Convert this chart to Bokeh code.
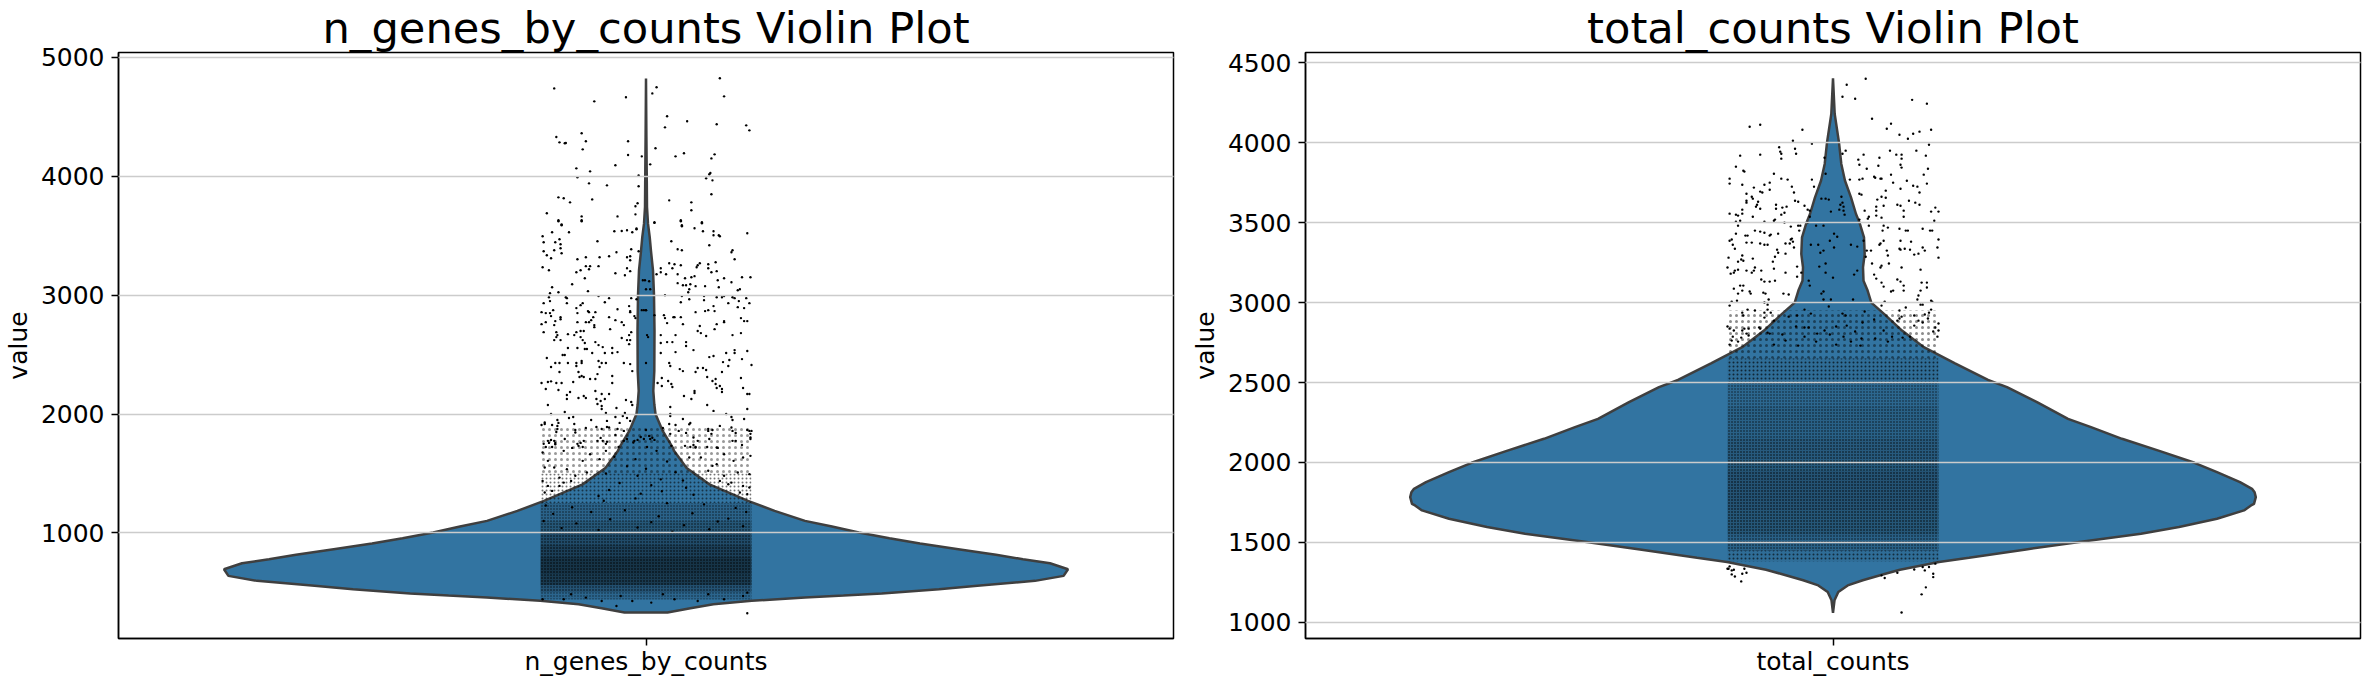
from bokeh.embed import file_html
from bokeh.resources import INLINE
from bokeh.layouts import row
from bokeh.models import Range1d, FixedTicker
from bokeh.plotting import figure

FILL = "#3274a1"
EDGE = "#3f3f3f"

# NOTE ON THE STRIP POINTS
# The sparse points above the dense clouds were read one by one from zoomed crops.
# The dense clouds hold thousands of overlapping points that cannot be read individually.
# They are NOT plotted point by point: the *_band_* arrays draw a shaded, dot-hatched
# texture whose tone was judged by eye. A few dozen points in and near those clouds
# (the last rows of the lists) are rough placements that give an impression, not readings.

genes_label = "n_genes_by_counts"
genes_ticks = [1000, 2000, 3000, 4000, 5000]
genes_curve_value = [329, 366, 400, 428, 456, 472, 489, 526, 554, 596, 638, 694, 744, 778, 815, 862, 910, 955, 1003, 1053, 1101, 1185, 1269, 1339, 1408, 1545, 1691, 1718, 1858, 2000, 2082, 2194, 2360, 2698, 3000, 3209, 3370, 3490, 3602, 3742, 4050, 4330, 4824]
genes_curve_px = [21.5, 44.4, 67.4, 105.7, 159, 197.5, 235.8, 293, 331.4, 389, 417.6, 422, 404, 377, 350, 312.3, 274, 243.4, 212.8, 186, 159, 128.6, 102, 82.7, 63.4, 40.6, 28, 26.7, 16.7, 9.5, 8.3, 7.3, 8.3, 8.5, 8, 7, 5, 3.7, 2, 1, .7, .4, 0]
# jitter in thousandths of the axis width, value on the y axis
genes_jit = [70, 10, -87, 6, -49, -19, 74, 20, 39, 67, 18, 95, 98, -61, -85, -57, -82, -76, -77, -17, -60, 9, 36, 28, -17, -4, 65, 62, -29, 4, -66, -53, 61, 60, -7, -65, 57, 63, -54, -37, -7, 62, -83, -78, -51, -72, 22, 43, -8, -10, -94, 43, -61, -61, -27, -10, -83, -80, 33, 34, 53, 8, -9,
             -83, -80, -61, -30, -23, -18, -13, -9, 8, 33, 34, 46, 53, 54, 64, 64, 69, 70, 96, -98, -89, -73,
             -97, -86, -82, -81, -81, -97, -87, -80, -94, -90, -46, -28, -14, -7, 24, 30, 34, 60, 82, 81, 84, -65, -57, -44, -35, -18, -15, -15,
             -98, -92, -57, -53, -54, -45, -62, -66, -18, -15, -29, -20, -58, 22, 27, 25, 33, 14, 14, 10, 19, 30, 59, 59, 62, 67, 66, 51, 49, 48, 46, 43, 37, 68, 74, 91, 99, 81, -70, -89, 30, 35, 38, 42, 41, 47, 56, 69, 89, 87, -55, -83, -91, 40,
             -45, -35, -39, -92, -91, -97, -76, -75, -75, -14, -9, 18, 34, 33, 41, 55, 55, 67, 72, 74, 82, 84, 95, 78, 98, 64, 59, 65, 87, 93, -99, -95, -91, -88, -62, -60, -66, -65, -55, -54, -27, -48, -16, -15, -2, 0, 56, 47,
             -90, -86, -81, -81, -99, -95, -87, -52, -50, -49, -49, -54, -65, -57, -35, -29, -23, -21, -15, -11, -10, 17, 18, 20, 26, 27, 35, 33, 51, 74, 74, 67, 90, 93, 96, 88,
             -97, -85, -84, -85, -87, -81, -74, -68, -66, -62, -59, -62, -60, -34, -23, -16, -14, -18, -15, 14, 28, 49, 52, 57, 65, 82, 90,
             -58, -48, -41, -45, -74, -65, -58, -56, -51, -32, -32, -39, -27, -16, 14, 20, 25, 38, 38, 28, 45, 14, 76, 84, 84, 96,
             -94, -79, -77, -86, -82, -74, -66, -61, -66, -61, -45, -42, -44, -38, -21, -15, -13, 22, 23, 32, 35, 47, 49, 54, 60, 64, 73, 79, 78, 91, 100, 57, 72,
             -90, -82, -64, -61, -63, -59, -46, -53, -48, -32, -32, -99, -90, -93, -85, -80, -69, -95, -83, -72, -75, -75, -64, -59, -57, -48, -42, -35, -39, -47, -43, -19,
             15, 21, 15, 11, 24, 25, 36, 43, 46, 46, 58, 63, 66, 66, 70, 67, 72, 72, 90, 92, 96, 98, 58,
             -93, -77, -90, -46, -42, -42, -38, -28, -20, -14, -13, 23, 23, 64, 96, 76,
             -99, -96, -84, -83, -89, -73, -69, -68, -67, -84, -85, -57, -52, -47, -42, -37, -29, -25, -22, -18, -15, -21, -27, -37,
             23, 22, 35, 42, 28, 16, 23, 31, 38, 59, 63, 70, 81, 82, 93, 82, 85, 96, 100, 99, 62,
             -90, -92, -97, -87, -86, -95, -89, -77, -70, -65, -62, -60, -59, -43, -41, -38, -37, -29, -21, -26,
             -18, -11, -8, -2, 4, 8, 0, 3, -5, 1, 37, 42, 45, 49, 60, 68, 82, 91, 99, 58, 24, 47,
             -1, 3, -3, 4, 0, -4, 0, 1, 2, 0, 8,
             -96, -84, -67, -93, -86, -64, -46, -98, -78, -53, -93, -87, -96, -75, -60, -44, -98, -82, -71, -93, -82, -78, -96, -89, -67, -56, -38, -35,
             41, 59, 81, 98, 47, 67, 85, 99, 45, 52, 74, 92, 83, 99, 59, 74, 87, 98, 67, 41, 81, 92, 98, 89, 96, 78, 63, 70, 96,
             -98, -78, -57, -28, -42, -13, 5, 27, 49, 74, 92, -71, -24, 16, 59, 96,
             -95, -70, -40, -10, 20, 55, 85, -88, -52, -20, 12, 44, 78, 95, -97, -66, -34, 5, 36, 68, -80, -45, -8, 25, 60, 92,
             -30, -18, -8, 10, 20, 28, -25, 5, 35, -35, -5, 15, 45, -45, -12, 6, -10, 0, 14, -38, 38]
genes_val = [4825, 4749, 4740, 4698, 4631, 4665, 4673, 4505, 4463, 4438, 4412, 4429, 4387, 4362, 4331, 4295, 4286, 4280, 4278, 4295, 4227, 4236, 4194, 4168, 4180, 4168, 4185, 4151, 4093, 4101, 4067, 4042, 4028, 4017, 4008, 3992, 3983, 3966, 3941, 3924, 3916, 3849, 3823, 3815, 3806, 3781, 3798, 3781, 3773, 3748, 3689, 3714, 3663, 3630, 3663, 3680, 3630, 3596, 3630, 3588, 3613, 3613, 3562,
             3622, 3588, 3622, 3538, 3540, 3546, 3529, 3554, 3608, 3622, 3580, 3563, 3605, 3538, 3538, 3504, 3504, 3496, 3521, 3496, 3529, 3529,
             3445, 3445, 3470, 3428, 3395, 3370, 3378, 3353, 3336, 3311, 3454, 3361, 3386, 3370, 3454, 3386, 3378, 3420, 3378, 3361, 3302, 3302, 3319, 3319, 3328, 3319, 3328, 3294,
             3235, 3210, 3244, 3244, 3218, 3244, 3210, 3193, 3227, 3202, 3185, 3168, 3143, 3269, 3260, 3227, 3252, 3227, 3193, 3176, 3176, 3176, 3260, 3227, 3193, 3202, 3277, 3269, 3252, 3235, 3160, 3151, 3143, 3126, 3143, 3151, 3151, 3109, 3092, 3067, 3101, 3084, 3084, 3092, 3050, 3076, 3076, 3067, 3050, 3042, 3034, 3025, 3017, 3025,
             2992, 2975, 2941, 2983, 2950, 2933, 2983, 2975, 2933, 2975, 2966, 3000, 2992, 2941, 2966, 2992, 2958, 2983, 2983, 2992, 2983, 2975, 2975, 2933, 2933, 2908, 2874, 2866, 2899, 2891, 2857, 2849, 2849, 2874, 2916, 2933, 2891, 2849, 2866, 2857, 2882, 2857, 2908, 2857, 2874, 2874, 2866, 2857,
             2824, 2782, 2815, 2798, 2756, 2773, 2748, 2790, 2815, 2748, 2731, 2773, 2773, 2773, 2815, 2790, 2773, 2748, 2866, 2824, 2807, 2832, 2807, 2765, 2815, 2815, 2756, 2815, 2740, 2782, 2773, 2756, 2807, 2782, 2782, 2950,
             2689, 2689, 2664, 2647, 2622, 2622, 2672, 2664, 2689, 2698, 2698, 2647, 2622, 2714, 2639, 2664, 2689, 2622, 2622, 2664, 2664, 2698, 2681, 2656, 2714, 2664, 2681,
             2597, 2605, 2563, 2580, 2555, 2555, 2547, 2547, 2513, 2555, 2513, 2513, 2521, 2588, 2597, 2605, 2605, 2605, 2572, 2521, 2538, 2513, 2513, 2538, 2513, 2530,
             2471, 2496, 2496, 2429, 2429, 2429, 2429, 2446, 2404, 2429, 2446, 2429, 2395, 2429, 2429, 2420, 2361, 2429, 2404, 2378, 2361, 2353, 2387, 2387, 2479, 2488, 2437, 2454, 2404, 2462, 2412, 2370, 2353,
             2395, 2353, 2353, 2320, 2311, 2311, 2336, 2294, 2294, 2320, 2261, 2261, 2275, 2269, 2261, 2261, 2269, 2210, 2202, 2185, 2160, 2126, 2135, 2152, 2135, 2194, 2168, 2168, 2126, 2126, 2110, 2118,
             2303, 2278, 2236, 2261, 2252, 2227, 2152, 2126, 2194, 2177, 2311, 2278, 2294, 2252, 2236, 2219, 2185, 2210, 2303, 2219, 2168, 2168, 2076,
             2076, 2017, 2000, 2084, 2068, 2042, 2009, 2051, 2009, 2101, 2076, 2059, 2000, 2026, 2042, 2000,
             1908, 1916, 1950, 1925, 1908, 1967, 1975, 1916, 1866, 1874, 1849, 1883, 1950, 1891, 1874, 1942, 1975, 1925, 1983, 1967, 1942, 1858, 1874, 1891,
             1983, 1916, 1958, 1925, 1908, 1883, 1833, 1858, 1841, 1874, 1866, 1900, 1975, 1950, 1958, 1858, 1841, 1866, 1858, 1833, 1833,
             1782, 1757, 1749, 1774, 1757, 1723, 1723, 1790, 1715, 1749, 1757, 1723, 1774, 1799, 1774, 1749, 1766, 1824, 1774, 1723,
             1790, 1774, 1782, 1790, 1790, 1782, 1866, 1816, 1807, 1723, 1732, 1723, 1740, 1774, 1790, 1715, 1774, 1740, 1790, 1723, 1732, 1723,
             3126, 3117, 3126, 3050, 3050, 2874, 2874, 2664, 2647, 2429, 2832,
             1928, 1900, 1844, 1774, 1746, 1732, 1774, 1676, 1690, 1662, 1606, 1550, 1550, 1536, 1606, 1620, 1437, 1465, 1437, 1395, 1395, 1423, 1339, 1353, 1480, 1508, 1690, 1886,
             1914, 1858, 1886, 1858, 1718, 1718, 1774, 1802, 1802, 1634, 1662, 1634, 1606, 1648, 1522, 1480, 1508, 1494, 1578, 1634, 1423, 1395, 1381, 1339, 1325, 1409, 1564, 1437, 324,
             441, 441, 455, 385, 427, 427, 413, 441, 427, 441, 469, 483, 469, 483, 483, 497,
             1230, 1215, 1270, 1290, 1250, 1240, 1210, 1160, 1175, 1190, 1140, 1165, 1120, 1175, 1100, 1080, 1115, 1090, 1065, 1095, 1040, 1025, 1045, 1010, 1030, 1055,
             1640, 1560, 1480, 1690, 1600, 1510, 1420, 1400, 1440, 1360, 1330, 1350, 1320, 1310, 1760, 1800, 1620, 1540, 1450, 1500, 1380]
genes_band_low = [440, 500, 560, 650, 800, 900, 1000, 1100, 1250, 1500]
genes_band_high = [500, 560, 650, 800, 900, 1000, 1100, 1250, 1500, 1900]
genes_band_alpha = [0.6, 0.8, 1.0, 1.0, 1.0, 0.9, 0.8, 0.7, 0.55, 0.4]
genes_band_scale = [3, 3, 3, 3, 3, 3, 3, 3, 4, 6]
genes_band_tone = [0.12, 0.28, 0.5, 0.55, 0.45, 0.35, 0.25, 0.15, 0, 0]

counts_label = "total_counts"
counts_ticks = [1000, 1500, 2000, 2500, 3000, 3500, 4000, 4500]
counts_curve_value = [1059, 1138, 1190, 1231, 1263, 1304, 1329, 1377, 1404, 1456, 1506, 1554, 1596, 1648, 1700, 1731, 1741, 1783, 1814, 1835, 1877, 1939, 1998, 2071, 2148, 2221, 2273, 2377, 2471, 2516, 2620, 2721, 2825, 2929, 3000, 3075, 3137, 3221, 3304, 3408, 3500, 3554, 3658, 3762, 3867, 4000, 4179, 4402]
counts_curve_px = [0, 1.5, 5.3, 14.7, 29.8, 52.4, 67, 106, 136, 193, 250, 308, 346, 384, 411, 418, 421, 422.8, 421.6, 419, 407, 384, 361.5, 327, 289, 258, 235, 204, 174, 155, 122, 90.8, 69, 51, 38.3, 34.6, 30.5, 30, 31.7, 31, 26.5, 23, 18, 12, 8.3, 6, 1.7, 0]
counts_jit = [31, 13, 9, 21, 75, 89, 37, 55, 51, -79, -69, -29, 93, 82, 76, 63, 71, -38, -20, 91, -51, -36, -50, -49, -35, -69, -88, -49, 12, 54, 79, 9, 29, 60, 65, 65, 88, -8, 44, 24, 25, 43, 64, 65, -92, 32, 90, -85, -84, -56, 86, -7, 55, 39, 40, 45, 46, -98, -98, -86, -49, -43, -20, 16, 25, 28, 57, 70, 89, -60, -65, -75, -39, -18, 64, 76, 80, 50, -60, -69, -67, -37, -82, 25, 27, 82, -77, -76, -82, -82, -71, -72, -36, -33, -27, -11, -7, -4, 8, 9, 7, 46, 42, 50, 72, 78, 82, 64, 61, 48, 41, -73, -69, -54, -54, -48, -44, -24, -22, 10, 10, -2, 6,
              97, 100, 93, -86, -98, -92, -90, -86, -76, -46, -55, -49, -22, 11, 30, 34, 33, 41, 41, 46, 67, 67, 96, -92, -88, -90, -65, -56, -46, -40, -33, -31, -24, -9, -16, 25, 34, 48, 52, 63, 69, 71, 85, 92, 94, -74, -69, -65, -92, -83, -81, -60, -59, -52, -32, -39, -40, -69, -65, -62, -98, -96, -95, -93, -45, -41, -38, -37, -77, -82,
              1, 4, -3, -21, -14, 1, -9, -12, 17, 23, 29, 47, 48, 64, 74, 85, 87, 99, 100, 44, 45, 36, 32, 51, 52, 63, 64, 68, 73, 77, 81,
              -99, -86, -87, -90, -85, -76, -53, -52, -45, -55, -57, -100, -93, -90, -97, -94, -82, -74, -75, -77, -68, -56, -45, -34, -34, -30, -13, -7, -7, 0, 20, 23, 31, 37, 46, 45, 53, 65, 83, 100, 39, 41, 61, 64,
              -68, -65, -60, -55, -94, -88, -85, -86, -79, -78, -90, -66, -64, -61, -47, -42, -23, -22, -11, -9, -9, -2, 19, 46, 48, 55, 57, 67, 67, 84, 89, 89, 83, 81, 80, 93, 94, -96, -98, -91, -65, -62, -62,
              -86, -85, -81, -74, -65, -65, -59, 46, 49, 63, 69, 63, 61, 65, 77, 83, 85, 93, 91, 87, 90, 85, 77, 81, 100, 97, 95, 100, 99, -100, -98, -94, -80, -84, -86, -95, -96, -87, -90, -98, -80, -82, -70, -69, -62,
              -27, -34, -21, -4, 9, 12, 30, -56, -42, -35, -27, -23, -8, 3, 13, 21, 28, 39, 48, -60, -48, -45, -27, -15, -3, 10, 17, 27, 40, 56, 66, -56, -33, -16, 3, 26, 52, 73,
              -100, -99, -98, -96, -96, -94, -93, -86, -87, -82, -84, 65, 84, 88, 95, 95, 87, 85, 77, 97, 91, 49, 46, 61]
counts_val = [4400, 4362, 4287, 4275, 4268, 4244, 4150, 4119, 4087, 4100, 4112, 4081, 4081, 4069, 4056, 4050, 4025, 4012, 3994, 3987, 3971, 3962, 3944, 3931, 3931, 3925, 3919, 3900, 3950, 3950, 3950, 3931, 3925, 3925, 3925, 3900, 3919, 3906, 3906, 3894, 3862, 3856, 3862, 3844, 3850, 3837, 3837, 3825, 3819, 3806, 3800, 3806, 3800, 3787, 3781, 3775, 3775, 3775, 3744, 3737, 3775, 3769, 3769, 3769, 3769, 3775, 3750, 3762, 3744, 3750, 3737, 3719, 3725, 3725, 3712, 3731, 3725, 3700, 3706, 3694, 3688, 3688, 3681, 3681, 3675, 3688, 3662, 3650, 3637, 3625, 3631, 3612, 3637, 3631, 3606, 3650, 3650, 3644, 3662, 3625, 3612, 3662, 3644, 3656, 3637, 3625, 3612, 3606, 3612, 3606, 3600, 3600, 3587, 3612, 3587, 3594, 3600, 3581, 3575, 3600, 3575, 3569, 3581,
              3594, 3569, 3569, 3581, 3556, 3550, 3544, 3556, 3537, 3562, 3519, 3550, 3537, 3550, 3575, 3537, 3525, 3575, 3544, 3531, 3575, 3537, 3512, 3506, 3512, 3481, 3506, 3512, 3500, 3475, 3481, 3481, 3500, 3481, 3481, 3519, 3481, 3481, 3469, 3462, 3450, 3450, 3462, 3450, 3450, 3450, 3444, 3437, 3431, 3419, 3419, 3419, 3425, 3431, 3450, 3400, 3394, 3369, 3362, 3362, 3387, 3394, 3362, 3337, 3369, 3369, 3381, 3344, 3375, 3375,
              3431, 3412, 3387, 3362, 3362, 3344, 3325, 3312, 3362, 3350, 3387, 3450, 3387, 3387, 3381, 3344, 3325, 3344, 3394, 3362, 3369, 3325, 3325, 3325, 3294, 3337, 3331, 3337, 3331, 3300, 3306,
              3281, 3294, 3269, 3256, 3262, 3275, 3331, 3312, 3306, 3287, 3256, 3219, 3200, 3206, 3181, 3187, 3200, 3219, 3200, 3187, 3200, 3212, 3187, 3225, 3162, 3187, 3225, 3244, 3187, 3156, 3175, 3200, 3287, 3244, 3231, 3219, 3244, 3219, 3206, 3281, 3175, 3150, 3144, 3131,
              3144, 3131, 3131, 3137, 3087, 3106, 3106, 3075, 3069, 3056, 3056, 3062, 3056, 3019, 3056, 3050, 3137, 3106, 3056, 3019, 3069, 3019, 3019, 3125, 3100, 3069, 3075, 3106, 3075, 3125, 3125, 3094, 3075, 3044, 3019, 3012, 3006, 3006, 2981, 3012, 3000, 2987, 2956,
              2937, 2919, 2956, 2950, 2937, 2906, 2937, 2981, 3006, 2950, 2969, 2900, 2887, 2912, 2919, 2987, 2987, 2956, 2937, 2925, 2900, 2875, 2856, 2887, 2869, 2844, 2819, 2825, 2787, 2850, 2837, 2825, 2837, 2837, 2825, 2787, 2762, 2781, 2756, 2737, 2794, 2806, 2844, 2837, 2812,
              2956, 2919, 2931, 2975, 2931, 2919, 2944, 2887, 2912, 2850, 2844, 2844, 2825, 2850, 2856, 2819, 2875, 2894, 2825, 2806, 2800, 2762, 2787, 2806, 2800, 2787, 2756, 2775, 2775, 2787, 2781, 2737, 2731, 2756, 2737, 2731, 2756, 2787,
              1335, 1335, 1350, 1325, 1300, 1329, 1287, 1304, 1256, 1310, 1335, 1062, 1175, 1219, 1283, 1304, 1325, 1346, 1331, 1367, 1346, 1277, 1294, 1310]
counts_band_low = [1380, 1450, 1550, 1700, 1950, 2150, 2350, 2500, 2650]
counts_band_high = [1450, 1550, 1700, 1950, 2150, 2350, 2500, 2650, 2950]
counts_band_alpha = [0.6, 0.8, 0.95, 0.95, 0.9, 0.8, 0.7, 0.65, 0.45]
counts_band_scale = [4, 3, 3, 3, 3, 3, 3, 4, 6]
counts_band_tone = [0.06, 0.16, 0.25, 0.28, 0.22, 0.16, 0.11, 0.06, 0]


def panel(label, ticks, curve_value, curve_px, jit, val, low, high, alpha, scale, tone, yr, border_l, border_r):
    p = figure(output_backend="svg", toolbar_location=None,
               x_range=Range1d(-0.5, 0.5), y_range=Range1d(*yr), frame_width=1055, frame_height=586,
               min_border_left=border_l, min_border_right=border_r, min_border_top=47, min_border_bottom=40,
               title=label + " Violin Plot", title_location="above")
    p.title.align = "center"
    p.title.text_font = "DejaVu Sans"
    p.title.text_font_size = "43.2px"
    p.title.text_font_style = "normal"
    p.title.text_color = "black"
    p.title.standoff = 0
    half = [w / 1055 for w in curve_px]
    xs = [-h for h in half] + [h for h in reversed(half)]
    ys = list(curve_value) + list(reversed(curve_value))
    p.patch(xs, ys, fill_color=FILL, line_color=EDGE, line_width=2.5)
    p.hbar(y=[(a + b) / 2 for a, b in zip(low, high)], height=[b - a for a, b in zip(low, high)], left=-0.1, right=0.1,
           fill_color="black", fill_alpha=tone, line_alpha=0, hatch_pattern="dot", hatch_color="black", hatch_alpha=alpha, hatch_scale=scale, hatch_weight=1.5)
    p.scatter([j / 1000 for j in jit[:len(val)]], val[:len(jit)], size=2.4, color="black", line_width=0)
    p.ygrid.ticker = FixedTicker(ticks=ticks)
    p.ygrid.grid_line_color = "#cccccc"
    p.ygrid.grid_line_width = 1.5
    p.ygrid.level = "overlay"
    p.xgrid.visible = False
    p.xaxis.ticker = FixedTicker(ticks=[0])
    p.xaxis.major_label_overrides = {0: label}
    p.yaxis.ticker = FixedTicker(ticks=ticks)
    p.yaxis.axis_label = "value"
    for ax in (p.xaxis[0], p.yaxis[0]):
        ax.major_label_text_font = "DejaVu Sans"
        ax.major_label_text_font_size = "25px"
        ax.major_label_text_color = "black"
        ax.axis_label_text_font = "DejaVu Sans"
        ax.axis_label_text_font_size = "25px"
        ax.axis_label_text_font_style = "normal"
        ax.axis_label_text_color = "black"
        ax.axis_line_color = "black"
        ax.axis_line_width = 1.5
        ax.major_tick_line_color = "black"
        ax.major_tick_line_width = 1.5
        ax.major_tick_out = 7
        ax.major_tick_in = 0
        ax.minor_tick_line_color = None
        ax.major_label_standoff = 7
    p.xaxis[0].major_label_standoff = 1
    p.outline_line_color = "black"
    p.outline_line_width = 1.5
    p.outline_line_alpha = 1
    p.yaxis[0].axis_label_standoff = 5
    return p


left = panel(genes_label, genes_ticks, genes_curve_value, genes_curve_px, genes_jit, genes_val,
             genes_band_low, genes_band_high, genes_band_alpha, genes_band_scale, genes_band_tone, (111, 5042), 110, 14)
right = panel(counts_label, counts_ticks, counts_curve_value, counts_curve_px, counts_jit, counts_val,
              counts_band_low, counts_band_high, counts_band_alpha, counts_band_scale, counts_band_tone, (899, 4564), 112, 3)
page = row(left, right, spacing=0)
open("out.html", "w").write(file_html(page, INLINE))
